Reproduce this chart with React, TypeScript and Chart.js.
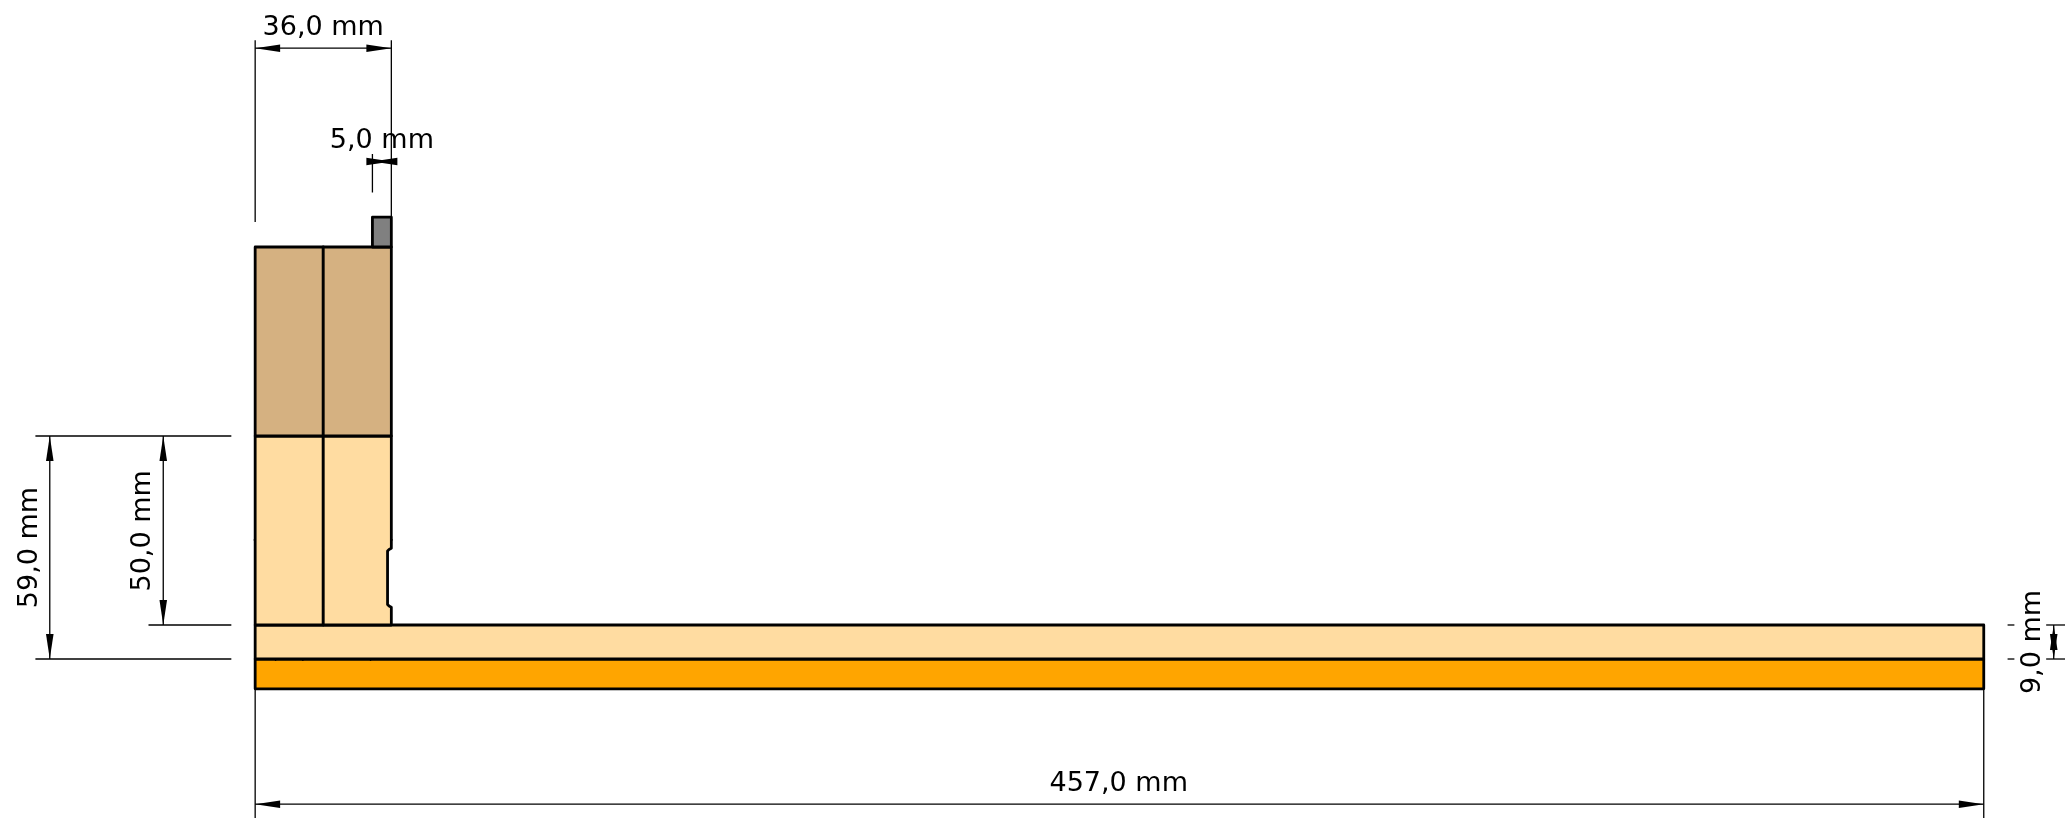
import React, { useEffect, useRef } from "react";
import { Chart, registerables } from "chart.js";

Chart.register(...registerables);

type Pt = [number, number];

// Section geometry, in millimetres (y = 0 at the joint of the two base layers)
const orangeLayer: Pt[] = [[0, -7.9], [457, -7.9], [457, 0], [0, 0], [0, -7.9]];
const baseLayer: Pt[] = [[0, 0], [457, 0], [457, 9], [0, 9], [0, 0]];
const lowerLeftBlock: Pt[] = [[0, 9], [18, 9], [18, 59], [0, 59], [0, 9]];
const lowerRightBlock: Pt[] = [[18, 9], [36, 9], [36, 13.7], [35.4, 14], [35, 14.4], [35, 28.6], [35.4, 29], [36, 29.3], [36, 59], [18, 59], [18, 9]];
const upperLeftBlock: Pt[] = [[0, 59], [18, 59], [18, 109], [0, 109], [0, 59]];
const upperRightBlock: Pt[] = [[18, 59], [36, 59], [36, 109], [18, 109], [18, 59]];
const topStrip: Pt[] = [[31, 109], [36, 109], [36, 116.9], [31, 116.9], [31, 109]];

// Tiny marks left on the outline by the section
const outlineTicks: [Pt, Pt][] = [
  [[5.4, 0], [5.4, -0.5]],
  [[12.6, 0], [12.6, -0.5]],
  [[30.5, 0], [30.5, -0.5]],
  [[-0.4, 31.5], [0, 31.5]],
  [[36, 31.5], [36.4, 31.5]],
];

// Dimension texts
const dimensionLabels = ["36,0 mm", "5,0 mm", "457,0 mm", "59,0 mm", "50,0 mm", "9,0 mm"];
const labelAnchors: Pt[] = [[18, 165.1], [33.5, 135.1], [228.3, -34.8], [-57.8, 29.5], [-27.7, 33.9], [472, 4.5]];
const labelRotated = [false, false, false, true, true, true];

// Dimension lines, from tip to tip
const dimensionLines: [Pt, Pt][] = [
  [[0, 161.6], [36, 161.6]],
  [[31, 131.6], [36, 131.6]],
  [[0, -38.4], [457, -38.4]],
  [[-54.3, 59], [-54.3, 0]],
  [[-24.3, 59], [-24.3, 9]],
  [[475.5, 9], [475.5, 0]],
];

// Extension lines
const extensionLines: [Pt, Pt][] = [
  [[0, 163.7], [0, 115.6]],
  [[36, 163.7], [36, 115.6]],
  [[31, 133.6], [31, 123.4]],
  [[0, -7.9], [0, -42.2]],
  [[457, -7.9], [457, -42.2]],
  [[-58.1, 59], [-6.3, 59]],
  [[-58.1, 0], [-6.3, 0]],
  [[-28.2, 9], [-6.3, 9]],
  [[463.3, 9], [465.1, 9]],
  [[463.3, 0], [465.1, 0]],
  [[473.5, 9], [478.9, 9]],
  [[473.5, 0], [478.9, 0]],
];

const ARROW_LENGTH = 6.6;
const ARROW_HALF_WIDTH = 1;

function toPoints(p: Pt[]) {
  return p.map(([x, y]) => ({ x, y }));
}

function arrowHead(tip: Pt, other: Pt): Pt[] {
  const dx = other[0] - tip[0];
  const dy = other[1] - tip[1];
  const len = Math.hypot(dx, dy);
  const ux = dx / len;
  const uy = dy / len;
  const bx = tip[0] + ux * ARROW_LENGTH;
  const by = tip[1] + uy * ARROW_LENGTH;
  return [tip, [bx - uy * ARROW_HALF_WIDTH, by + ux * ARROW_HALF_WIDTH], [bx + uy * ARROW_HALF_WIDTH, by - ux * ARROW_HALF_WIDTH], tip];
}

function thinLine(p: Pt[]) {
  return {
    data: toPoints(p),
    showLine: true,
    pointRadius: 0,
    borderColor: "#000000",
    borderWidth: 1.3,
    fill: false,
    clip: false,
  };
}

function solid(p: Pt[], color: string) {
  return {
    data: toPoints(p),
    showLine: true,
    pointRadius: 0,
    borderColor: "#000000",
    borderWidth: 2.8,
    borderJoinStyle: "round",
    borderCapStyle: "round",
    backgroundColor: color,
    fill: "shape",
    clip: false,
  };
}

function arrow(p: Pt[]) {
  return {
    data: toPoints(p),
    showLine: true,
    pointRadius: 0,
    borderColor: "#000000",
    borderWidth: 0,
    backgroundColor: "#000000",
    fill: "shape",
    clip: false,
  };
}

const labelPlugin = {
  id: "dimensionLabels",
  afterDatasetsDraw(chart: any) {
    const { ctx, scales } = chart;
    ctx.save();
    ctx.fillStyle = "#000000";
    ctx.font = '27px "DejaVu Sans"';
    ctx.textAlign = "center";
    ctx.textBaseline = "alphabetic";
    dimensionLabels.forEach((text, i) => {
      const px = scales.x.getPixelForValue(labelAnchors[i][0]);
      const py = scales.y.getPixelForValue(labelAnchors[i][1]);
      ctx.save();
      ctx.translate(px, py);
      if (labelRotated[i]) ctx.rotate(-Math.PI / 2);
      ctx.fillText(text, 0, 0);
      ctx.restore();
    });
    ctx.restore();
  },
};

export default function App() {
  const ref = useRef<HTMLCanvasElement>(null);
  useEffect(() => {
    const datasets: any[] = [
      ...extensionLines.map((l) => thinLine(l)),
      ...dimensionLines.map((l) => thinLine(l)),
      ...dimensionLines.flatMap((l) => [arrow(arrowHead(l[0], l[1])), arrow(arrowHead(l[1], l[0]))]),
      solid(orangeLayer, "#ffa500"),
      solid(baseLayer, "#ffdca1"),
      solid(lowerLeftBlock, "#ffdca1"),
      solid(lowerRightBlock, "#ffdca1"),
      solid(upperLeftBlock, "#d5b181"),
      solid(upperRightBlock, "#d5b181"),
      solid(topStrip, "#808080"),
      ...outlineTicks.map((l) => thinLine(l)),
    ];
    // Chart.js draws dataset 0 last, so give later entries a lower order value
    datasets.forEach((d, i) => {
      d.order = datasets.length - i;
    });
    const chart = new Chart(ref.current as HTMLCanvasElement, {
      type: "scatter",
      data: { datasets },
      options: {
        animation: false,
        responsive: false,
        devicePixelRatio: 1,
        layout: { padding: 0 },
        plugins: { legend: { display: false }, tooltip: { enabled: false } },
        scales: {
          x: { type: "linear", display: false, min: -67.46, max: 478.48 },
          y: { type: "linear", display: false, min: -42.06, max: 174.34 },
        },
      } as any,
      plugins: [labelPlugin],
    });
    return () => chart.destroy();
  }, []);
  return (
    <div style={{ position: "fixed", left: 0, top: 0, width: 2065, height: 818, background: "#ffffff" }}>
      <canvas ref={ref} width={2065} height={818} style={{ display: "block" }} />
    </div>
  );
}
